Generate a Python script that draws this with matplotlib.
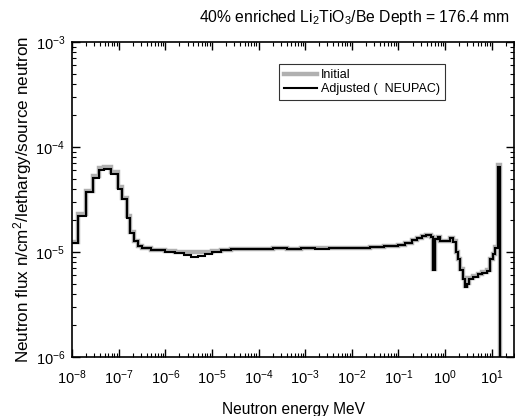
import numpy as np
import matplotlib
matplotlib.use("Agg")
import matplotlib.pyplot as plt
from matplotlib.ticker import LogLocator, NullFormatter

plt.rcParams['font.family'] = ['Liberation Sans', 'DejaVu Sans']
plt.rcParams['mathtext.fontset'] = 'custom'
plt.rcParams['mathtext.rm'] = 'Liberation Sans'
plt.rcParams['mathtext.it'] = 'Liberation Sans'

# bin edges in log10(E / MeV)
log_edges = [-8.00, -7.87, -7.70, -7.55, -7.42, -7.31, -7.16, -7.01, -6.93, -6.82,
             -6.76, -6.67, -6.59, -6.50, -6.30, -6.00, -5.80, -5.60, -5.45, -5.30,
             -5.15, -5.00, -4.80, -4.60, -4.30, -4.00, -3.70, -3.40, -3.10, -2.80,
             -2.50, -2.20, -1.90, -1.60, -1.30, -1.00, -0.85, -0.70, -0.60, -0.50,
             -0.40, -0.30, -0.25, -0.21, -0.15, -0.10, 0.00, 0.10, 0.18, 0.24,
             0.28, 0.33, 0.38, 0.42, 0.46, 0.52, 0.60, 0.70, 0.80, 0.90,
             0.96, 1.02, 1.08, 1.13, 1.18, 1.22]

adjusted = [1.22e-5, 2.2e-5, 3.7e-5, 5.1e-5, 6.0e-5, 6.2e-5, 5.5e-5, 4.0e-5, 3.2e-5, 2.1e-5,
            1.5e-5, 1.26e-5, 1.14e-5, 1.08e-5, 1.04e-5, 1.0e-5, 9.7e-6, 9.4e-6, 8.9e-6, 9.2e-6,
            9.6e-6, 1.0e-5, 1.04e-5, 1.06e-5, 1.07e-5, 1.07e-5, 1.08e-5, 1.07e-5, 1.08e-5, 1.07e-5,
            1.08e-5, 1.09e-5, 1.1e-5, 1.11e-5, 1.13e-5, 1.17e-5, 1.23e-5, 1.3e-5, 1.37e-5, 1.42e-5,
            1.45e-5, 1.38e-5, 6.7e-6, 1.32e-5, 1.38e-5, 1.26e-5, 1.27e-5, 1.35e-5, 1.25e-5, 1.0e-5,
            8.5e-6, 6.8e-6, 5.5e-6, 4.6e-6, 5.0e-6, 5.5e-6, 5.8e-6, 6.1e-6, 6.3e-6, 6.6e-6,
            8.5e-6, 9.5e-6, 1.1e-5, 6.5e-5, 1e-9]

initial = [1.24e-5, 2.3e-5, 3.85e-5, 5.35e-5, 6.3e-5, 6.5e-5, 5.8e-5, 4.2e-5, 3.3e-5, 2.2e-5,
           1.55e-5, 1.28e-5, 1.15e-5, 1.09e-5, 1.05e-5, 1.02e-5, 1.0e-5, 1.0e-5, 1.0e-5, 1.0e-5,
           1.01e-5, 1.03e-5, 1.05e-5, 1.06e-5, 1.07e-5, 1.07e-5, 1.08e-5, 1.07e-5, 1.08e-5, 1.08e-5,
           1.08e-5, 1.09e-5, 1.1e-5, 1.11e-5, 1.13e-5, 1.17e-5, 1.23e-5, 1.3e-5, 1.37e-5, 1.42e-5,
           1.45e-5, 1.38e-5, 6.9e-6, 1.32e-5, 1.38e-5, 1.27e-5, 1.28e-5, 1.35e-5, 1.26e-5, 1.0e-5,
           8.6e-6, 6.9e-6, 5.6e-6, 4.7e-6, 5.1e-6, 5.6e-6, 5.9e-6, 6.2e-6, 6.4e-6, 6.7e-6,
           8.6e-6, 9.6e-6, 1.12e-5, 6.8e-5, 1e-9]

edges = [10.0 ** v for v in log_edges]

fig = plt.figure(figsize=(5.15, 4.16), dpi=100)
ax = fig.add_axes([0.140, 0.142, 0.858, 0.757])

ax.stairs(initial, edges, baseline=None, color='#b0b0b0', lw=3.2, label='Initial')
ax.stairs(adjusted, edges, baseline=None, color='black', lw=1.5, label='Adjusted (  NEUPAC)')

ax.set_xscale('log')
ax.set_yscale('log')
ax.set_xlim(1e-8, 30)
ax.set_ylim(1e-6, 1e-3)

ax.xaxis.set_major_locator(LogLocator(base=10, numticks=20))
ax.xaxis.set_minor_locator(LogLocator(base=10, subs=np.arange(2, 10), numticks=200))
ax.xaxis.set_minor_formatter(NullFormatter())
ax.yaxis.set_minor_locator(LogLocator(base=10, subs=np.arange(2, 10), numticks=200))
ax.yaxis.set_minor_formatter(NullFormatter())

ax.tick_params(which='both', direction='in', top=True, right=True, labelsize=10.5)
ax.tick_params(axis='x', which='major', pad=8)
ax.tick_params(axis='y', which='major', pad=5)
ax.tick_params(which='major', length=6, width=1)
ax.tick_params(which='minor', length=3, width=0.8)
for s in ax.spines.values():
    s.set_linewidth(1.2)

ax.set_xlabel('Neutron energy MeV', fontsize=11.2, labelpad=11)
ax.set_ylabel('Neutron flux n/cm$^2$/lethargy/source neutron', fontsize=12.3, labelpad=1)

fig.text(0.990, 0.957, '40% enriched Li$_2$TiO$_3$/Be Depth = 176.4 mm',
         ha='right', va='center', fontsize=11.3)

leg = ax.legend(loc='upper left', bbox_to_anchor=(0.469, 0.930), fontsize=9,
                frameon=True, fancybox=False, edgecolor='black', handlelength=2.6,
                borderpad=0.4, labelspacing=0.15, borderaxespad=0, handletextpad=0.35)
leg.get_frame().set_linewidth(0.8)

fig.savefig('out.png', dpi=100)
